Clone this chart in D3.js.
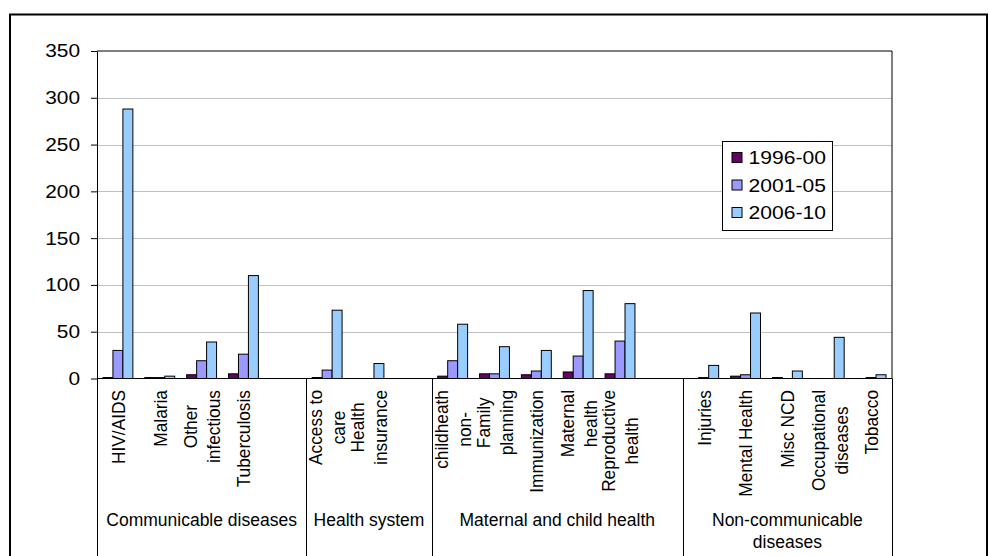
<!DOCTYPE html>
<html>
<head>
<meta charset="utf-8">
<script src="https://cdn.jsdelivr.net/npm/d3@7"></script>
<style>
  body { margin: 0; background: #fff; }
  svg { display: block; font-family: Arial, "Liberation Sans", sans-serif; }
</style>
</head>
<body>
<div id="chart"></div>
<script>
// categories in order, "" = empty slot, "|" = line break
var categories = ["HIV/AIDS", "Malaria", "Other|infectious", "Tuberculosis", "",
  "Access to|care", "Health|insurance", "",
  "childheath|non-", "Family|planning", "Immunization", "Maternal|health", "Reproductive|health", "",
  "Injuries", "Mental Health", "Misc NCD", "Occupational|diseases", "Tobacco"];
var categoryGroup = [0, 0, 0, 0, 0, 1, 1, 1, 2, 2, 2, 2, 2, 2, 3, 3, 3, 3, 3];
var groupNames = ["Communicable diseases", "Health system", "Maternal and child health", "Non-communicable|diseases"];

var seriesNames = ["1996-00", "2001-05", "2006-10"];
var seriesColors = ["#660066", "#9999ff", "#99ccff"];
var s1996 = [1, 1, 4, 5, null, 1, 0, null, 2.5, 5, 4, 7, 5, null, 0, 2.5, 1, 0, 0];
var s2001 = [30, 1, 19, 26, null, 9, 0, null, 19, 5, 8, 24, 40, null, 1, 4, 0, 0, 1];
var s2006 = [288, 2.5, 39, 110, null, 73, 16, null, 58, 34, 30, 94, 80, null, 14, 70, 8, 44, 4];
var yTicks = [0, 50, 100, 150, 200, 250, 300, 350];

var W = 989, H = 556;
var svg = d3.select("#chart").append("svg").attr("width", W).attr("height", H);

// outer chart frame
svg.append("rect").attr("x", 10).attr("y", 14.5).attr("width", 977).attr("height", 600)
  .attr("fill", "#fff").attr("stroke", "#000").attr("stroke-width", 2);

var plotLeft = 97, plotRight = 892, plotTop = 51, base = 378.5;
var x = d3.scaleBand().domain(d3.range(categories.length)).range([plotLeft, plotRight]).padding(0);
var slot = x.bandwidth();
var inner = d3.scaleBand().domain(d3.range(3)).range([slot * 0.6 / 4.2, slot - slot * 0.6 / 4.2]).padding(0);
var y = d3.scaleLinear().domain([0, 350]).range([base, plotTop]);

// gridlines
svg.append("g").selectAll("line").data(yTicks.filter(function (t) { return t > 0 && t < 350; }))
  .enter().append("line")
  .attr("x1", plotLeft).attr("x2", plotRight)
  .attr("y1", function (d) { return Math.round(y(d)) + 0.5; })
  .attr("y2", function (d) { return Math.round(y(d)) + 0.5; })
  .attr("stroke", "#c0c0c0").attr("stroke-width", 1);

// plot border top / right
svg.append("line").attr("x1", plotLeft).attr("x2", plotRight).attr("y1", plotTop).attr("y2", plotTop).attr("stroke", "#000");
svg.append("line").attr("x1", plotRight).attr("x2", plotRight).attr("y1", plotTop).attr("y2", base).attr("stroke", "#000");

// bars
var series = [s1996, s2001, s2006];
series.forEach(function (vals, si) {
  svg.append("g").selectAll("rect")
    .data(vals.map(function (v, i) { return { i: i, v: v }; }).filter(function (d) { return d.v; }))
    .enter().append("rect")
    .attr("x", function (d) { return x(d.i) + inner(si); })
    .attr("width", inner.bandwidth())
    .attr("y", function (d) { return y(d.v); })
    .attr("height", function (d) { return base - y(d.v); })
    .attr("fill", seriesColors[si])
    .attr("stroke", "#000").attr("stroke-width", 1);
});

// y axis
var yAxis = svg.append("g").attr("transform", "translate(" + plotLeft + ",0)")
  .call(d3.axisLeft(y).tickValues(yTicks).tickSize(6).tickSizeOuter(0).tickPadding(11));
yAxis.select(".domain").attr("stroke", "#000");
yAxis.selectAll(".tick line").attr("stroke", "#000");
yAxis.selectAll(".tick text")
  .attr("font-size", 18.5).attr("fill", "#000")
  .attr("x", -17 / 1.13)
  .attr("transform", "scale(1.13,1)")
  .attr("font-family", "Arial, 'Liberation Sans', sans-serif");

// baseline
svg.append("line").attr("x1", plotLeft).attr("x2", plotRight).attr("y1", base).attr("y2", base).attr("stroke", "#000");

// group dividers
var groupBounds = groupNames.map(function (g, gi) {
  var idx = d3.range(categories.length).filter(function (i) { return categoryGroup[i] === gi; });
  return { name: g, x0: x(idx[0]), x1: x(idx[idx.length - 1]) + slot };
});
var divX = [plotLeft].concat(groupBounds.map(function (g) { return g.x1; }));
svg.append("g").selectAll("line").data(divX).enter().append("line")
  .attr("x1", function (d) { return Math.round(d) + 0.5; })
  .attr("x2", function (d) { return Math.round(d) + 0.5; })
  .attr("y1", base).attr("y2", H)
  .attr("stroke", "#000");

// rotated category labels (slightly widened across, like the original)
var labelTop = 390, lineH = 23, widen = 1.1;
categories.forEach(function (c, i) {
  if (!c) return;
  var lines = c.split("|");
  var g = svg.append("g")
    .attr("transform", "translate(" + (x(i) + slot / 2) + "," + labelTop + ") rotate(-90) scale(1," + widen + ")");
  var texts = lines.map(function (l, li) {
    return g.append("text").text(l)
      .attr("font-size", 17.3).attr("fill", "#000")
      .attr("text-anchor", "middle")
      .attr("y", (li - (lines.length - 1) / 2) * lineH / widen)
      .attr("dy", "0.36em");
  });
  var maxLen = d3.max(texts, function (t) { return t.node().getComputedTextLength(); });
  texts.forEach(function (t) { t.attr("x", -maxLen / 2); });
});

// group labels
groupBounds.forEach(function (g) {
  var lines = g.name.split("|");
  lines.forEach(function (l, li) {
    svg.append("text").text(l)
      .attr("x", (g.x0 + g.x1) / 2)
      .attr("y", 520 + li * 22)
      .attr("dy", "0.36em")
      .attr("text-anchor", "middle")
      .attr("font-size", 17.5).attr("fill", "#000");
  });
});

// legend
var lg = svg.append("g").attr("transform", "translate(722.5,141.5)");
lg.append("rect").attr("width", 110).attr("height", 89).attr("fill", "#fff").attr("stroke", "#000");
seriesNames.forEach(function (s, si) {
  var cy = 16 + si * 27.5;
  lg.append("rect").attr("x", 9.5).attr("y", cy - 5).attr("width", 10).attr("height", 10)
    .attr("fill", seriesColors[si]).attr("stroke", "#000");
  lg.append("text").text(s)
    .attr("transform", "translate(26," + cy + ") scale(1.14,1)")
    .attr("dy", "0.36em")
    .attr("font-size", 18.5).attr("fill", "#000");
});
</script>
</body>
</html>
